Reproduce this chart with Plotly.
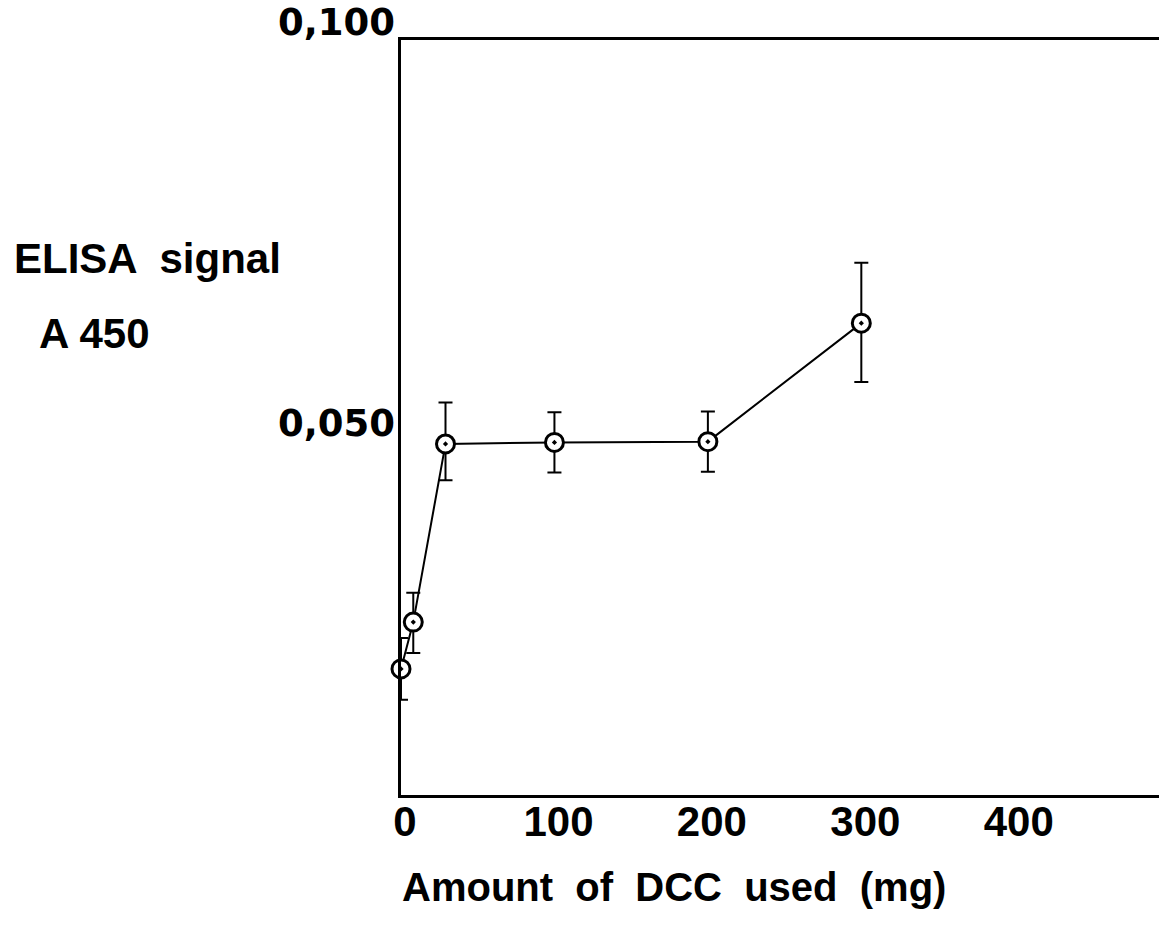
import plotly.graph_objects as go

# Data
dcc_mg = [0, 8, 29, 100, 200, 300]
elisa_a450 = [0.0167, 0.0229, 0.0465, 0.0467, 0.0468, 0.0625]
err_plus = [0.0041, 0.0039, 0.0055, 0.0040, 0.0040, 0.0080]
err_minus = [0.0041, 0.0041, 0.0048, 0.0040, 0.0040, 0.0078]

x_ticks = [0, 100, 200, 300, 400]
x_ticklabels = ["0", "100", "200", "300", "400"]
y_labels_vals = [0.100, 0.050]
y_labels_text = ["0,100", "0,050"]

fig = go.Figure()
fig.add_trace(go.Scatter(
    x=dcc_mg, y=elisa_a450,
    mode="lines+markers",
    line=dict(color="black", width=2),
    marker=dict(symbol="circle-dot", size=18, color="white",
                line=dict(color="black", width=3)),
    error_y=dict(type="data", symmetric=False, array=err_plus, arrayminus=err_minus,
                 color="black", thickness=2, width=7),
    cliponaxis=False,
    showlegend=False,
))

fig.update_layout(
    width=1159, height=928,
    margin=dict(l=401, r=0, t=40, b=133),
    paper_bgcolor="white", plot_bgcolor="white",
    font=dict(family="Liberation Sans, Arial, sans-serif", color="black"),
    xaxis=dict(
        range=[0, 494], showgrid=False, zeroline=False,
        showline=True, linecolor="black", linewidth=3, mirror=True,
        tickvals=x_ticks, ticktext=x_ticklabels, ticks="",
        tickfont=dict(family="Liberation Sans, Arial, sans-serif", size=42, color="black", weight="bold"),
        ticklabelstandoff=-12, ticklabelshift=4,
    ),
    yaxis=dict(
        range=[0, 0.1], showgrid=False, zeroline=False,
        showline=True, linecolor="black", linewidth=3,
        showticklabels=False, ticks="",
    ),
)

# y-axis value labels (placed as in the reference)
y_shift = [18, -6]
for v, t, s in zip(y_labels_vals, y_labels_text, y_shift):
    fig.add_annotation(x=0, xref="paper", y=v, yref="y", text=t, showarrow=False,
                       xanchor="right", yanchor="middle", xshift=-4, yshift=s,
                       font=dict(family="DejaVu Sans, sans-serif", size=37, color="black", weight="bold"))

# Axis titles
fig.add_annotation(x=(12-401)/758, xref="paper", y=(928-133-258)/755, yref="paper",
                   text="ELISA  signal", showarrow=False, xanchor="left", yanchor="middle",
                   font=dict(family="Liberation Sans, Arial, sans-serif", size=42, color="black", weight="bold"))
fig.add_annotation(x=(37-401)/758, xref="paper", y=(928-133-333)/755, yref="paper",
                   text="A 450", showarrow=False, xanchor="left", yanchor="middle",
                   font=dict(family="Liberation Sans, Arial, sans-serif", size=42, color="black", weight="bold"))
fig.add_annotation(x=(400-401)/758, xref="paper", y=(928-133-887)/755, yref="paper",
                   text="Amount  of  DCC  used  (mg)", showarrow=False, xanchor="left", yanchor="middle",
                   font=dict(family="Liberation Sans, Arial, sans-serif", size=40, color="black", weight="bold"))

fig.write_html("out.html")
